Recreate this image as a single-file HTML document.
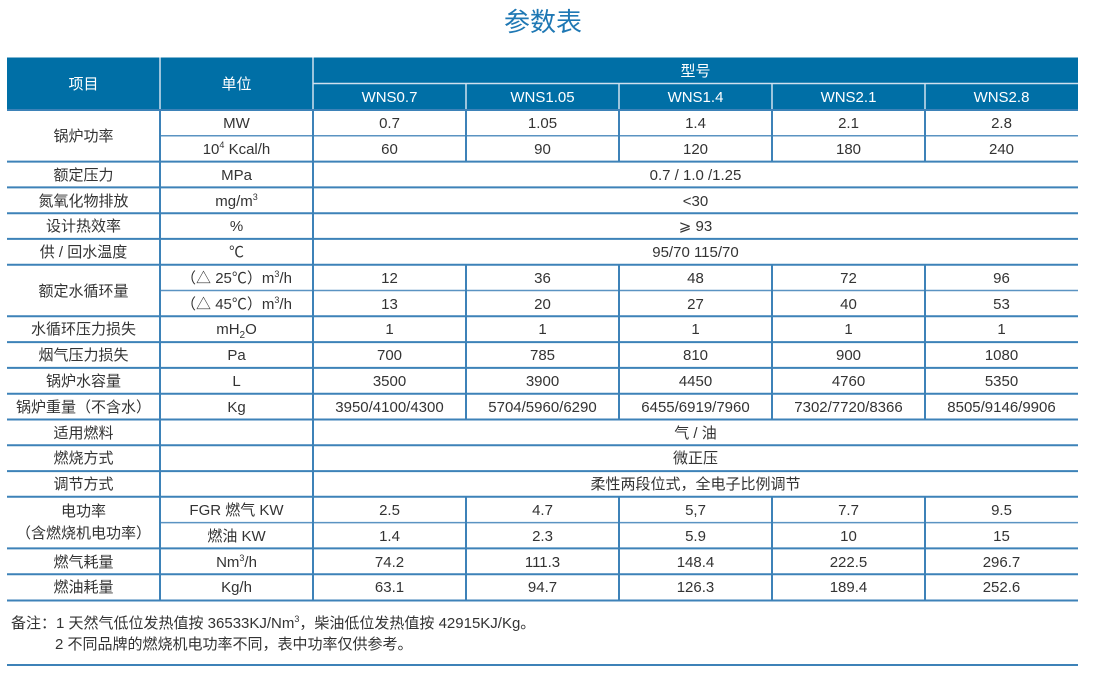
<!DOCTYPE html>
<html><head><meta charset="utf-8"><style>
body{margin:0;background:#fff}
svg{display:block}
text{font-family:"Liberation Sans","Noto Sans CJK SC",sans-serif;font-size:15px;fill:#333;text-anchor:middle}
.h{fill:#fff}
.l{text-anchor:start}
</style></head><body>
<svg width="1100" height="687" viewBox="0 0 1100 687">
<text x="543" y="31" style="font-size:26px;fill:#1f78b4">参数表</text>
<rect x="7" y="57.5" width="1071" height="52.5" fill="#006fa6"/>
<g stroke="#cfe0ee" stroke-width="1.5">
<line x1="160" y1="57.5" x2="160" y2="110"/><line x1="313" y1="57.5" x2="313" y2="110"/>
<line x1="313" y1="83.5" x2="1078" y2="83.5"/>
<line x1="466" y1="83.5" x2="466" y2="110"/><line x1="619" y1="83.5" x2="619" y2="110"/>
<line x1="772" y1="83.5" x2="772" y2="110"/><line x1="925" y1="83.5" x2="925" y2="110"/>
</g>
<text class="h" x="83.5" y="89">项目</text><text class="h" x="236.5" y="89">单位</text>
<text class="h" x="695.5" y="76">型号</text>
<text class="h" x="389.5" y="102">WNS0.7</text><text class="h" x="542.5" y="102">WNS1.05</text>
<text class="h" x="695.5" y="102">WNS1.4</text><text class="h" x="848.5" y="102">WNS2.1</text>
<text class="h" x="1001.5" y="102">WNS2.8</text>
<!-- horizontal lines -->
<g stroke="#3d82b8" stroke-width="2">
<line x1="7" y1="110" x2="1078" y2="110"/>
<line x1="7" y1="161.6" x2="1078" y2="161.6"/>
<line x1="7" y1="187.4" x2="1078" y2="187.4"/>
<line x1="7" y1="213.2" x2="1078" y2="213.2"/>
<line x1="7" y1="238.9" x2="1078" y2="238.9"/>
<line x1="7" y1="264.7" x2="1078" y2="264.7"/>
<line x1="7" y1="316.3" x2="1078" y2="316.3"/>
<line x1="7" y1="342.1" x2="1078" y2="342.1"/>
<line x1="7" y1="367.9" x2="1078" y2="367.9"/>
<line x1="7" y1="393.7" x2="1078" y2="393.7"/>
<line x1="7" y1="419.5" x2="1078" y2="419.5"/>
<line x1="7" y1="445.3" x2="1078" y2="445.3"/>
<line x1="7" y1="471.1" x2="1078" y2="471.1"/>
<line x1="7" y1="496.8" x2="1078" y2="496.8"/>
<line x1="7" y1="548.4" x2="1078" y2="548.4"/>
<line x1="7" y1="574.2" x2="1078" y2="574.2"/>
<line x1="7" y1="600.5" x2="1078" y2="600.5"/>
<line x1="7" y1="665" x2="1078" y2="665"/>
</g>
<g stroke="#5a93c2" stroke-width="1.5">
<line x1="160" y1="135.8" x2="1078" y2="135.8"/>
<line x1="160" y1="290.5" x2="1078" y2="290.5"/>
<line x1="160" y1="522.6" x2="1078" y2="522.6"/>
</g>
<!-- vertical -->
<g stroke="#3d82b8" stroke-width="2">
<line x1="160" y1="110" x2="160" y2="600.5"/><line x1="313" y1="110" x2="313" y2="600.5"/>
<g id="v1"><line x1="466" y1="110" x2="466" y2="161.6"/><line x1="619" y1="110" x2="619" y2="161.6"/><line x1="772" y1="110" x2="772" y2="161.6"/><line x1="925" y1="110" x2="925" y2="161.6"/></g>
<line x1="466" y1="264.7" x2="466" y2="419.5"/><line x1="619" y1="264.7" x2="619" y2="419.5"/><line x1="772" y1="264.7" x2="772" y2="419.5"/><line x1="925" y1="264.7" x2="925" y2="419.5"/>
<line x1="466" y1="496.8" x2="466" y2="600.5"/><line x1="619" y1="496.8" x2="619" y2="600.5"/><line x1="772" y1="496.8" x2="772" y2="600.5"/><line x1="925" y1="496.8" x2="925" y2="600.5"/>
</g>
<!-- col 1 -->
<text x="83.5" y="141">锅炉功率</text>
<text x="83.5" y="180">额定压力</text>
<text x="83.5" y="206">氮氧化物排放</text>
<text x="83.5" y="231">设计热效率</text>
<text x="83.5" y="257">供 / 回水温度</text>
<text x="83.5" y="296">额定水循环量</text>
<text x="83.5" y="334">水循环压力损失</text>
<text x="83.5" y="360">烟气压力损失</text>
<text x="83.5" y="386">锅炉水容量</text>
<text x="83.5" y="412">锅炉重量（不含水）</text>
<text x="83.5" y="438">适用燃料</text>
<text x="83.5" y="463">燃烧方式</text>
<text x="83.5" y="489">调节方式</text>
<text x="83.5" y="516">电功率</text>
<text x="83.5" y="538">（含燃烧机电功率）</text>
<text x="83.5" y="567">燃气耗量</text>
<text x="83.5" y="592">燃油耗量</text>
<!-- col 2 -->
<text x="236.5" y="128">MW</text>
<text x="236.5" y="154">10<tspan dy="-6" style="font-size:9px">4</tspan><tspan dy="6"> Kcal/h</tspan></text>
<text x="236.5" y="180">MPa</text>
<text x="236.5" y="206">mg/m<tspan dy="-6" style="font-size:9px">3</tspan></text>
<text x="236.5" y="231">%</text>
<text x="236.5" y="257">℃</text>
<text x="236.5" y="283">（△ 25℃）m<tspan dy="-6" style="font-size:9px">3</tspan><tspan dy="6">/h</tspan></text>
<text x="236.5" y="309">（△ 45℃）m<tspan dy="-6" style="font-size:9px">3</tspan><tspan dy="6">/h</tspan></text>
<text x="236.5" y="334">mH<tspan dy="4" style="font-size:10px">2</tspan><tspan dy="-4">O</tspan></text>
<text x="236.5" y="360">Pa</text>
<text x="236.5" y="386">L</text>
<text x="236.5" y="412">Kg</text>
<text x="236.5" y="515">FGR 燃气 KW</text>
<text x="236.5" y="541">燃油 KW</text>
<text x="236.5" y="567">Nm<tspan dy="-6" style="font-size:9px">3</tspan><tspan dy="6">/h</tspan></text>
<text x="236.5" y="592">Kg/h</text>
<!-- spans -->
<text x="695.5" y="180">0.7 / 1.0 /1.25</text>
<text x="695.5" y="206">&lt;30</text>
<text x="695.5" y="231">⩾ 93</text>
<text x="695.5" y="257">95/70   115/70</text>
<text x="695.5" y="438">气 / 油</text>
<text x="695.5" y="463">微正压</text>
<text x="695.5" y="489">柔性两段位式，全电子比例调节</text>
<!-- data -->
<g>
<text x="389.5" y="128">0.7</text><text x="542.5" y="128">1.05</text><text x="695.5" y="128">1.4</text><text x="848.5" y="128">2.1</text><text x="1001.5" y="128">2.8</text>
<text x="389.5" y="154">60</text><text x="542.5" y="154">90</text><text x="695.5" y="154">120</text><text x="848.5" y="154">180</text><text x="1001.5" y="154">240</text>
<text x="389.5" y="283">12</text><text x="542.5" y="283">36</text><text x="695.5" y="283">48</text><text x="848.5" y="283">72</text><text x="1001.5" y="283">96</text>
<text x="389.5" y="309">13</text><text x="542.5" y="309">20</text><text x="695.5" y="309">27</text><text x="848.5" y="309">40</text><text x="1001.5" y="309">53</text>
<text x="389.5" y="334">1</text><text x="542.5" y="334">1</text><text x="695.5" y="334">1</text><text x="848.5" y="334">1</text><text x="1001.5" y="334">1</text>
<text x="389.5" y="360">700</text><text x="542.5" y="360">785</text><text x="695.5" y="360">810</text><text x="848.5" y="360">900</text><text x="1001.5" y="360">1080</text>
<text x="389.5" y="386">3500</text><text x="542.5" y="386">3900</text><text x="695.5" y="386">4450</text><text x="848.5" y="386">4760</text><text x="1001.5" y="386">5350</text>
<text x="389.5" y="412">3950/4100/4300</text><text x="542.5" y="412">5704/5960/6290</text><text x="695.5" y="412">6455/6919/7960</text><text x="848.5" y="412">7302/7720/8366</text><text x="1001.5" y="412">8505/9146/9906</text>
<text x="389.5" y="515">2.5</text><text x="542.5" y="515">4.7</text><text x="695.5" y="515">5,7</text><text x="848.5" y="515">7.7</text><text x="1001.5" y="515">9.5</text>
<text x="389.5" y="541">1.4</text><text x="542.5" y="541">2.3</text><text x="695.5" y="541">5.9</text><text x="848.5" y="541">10</text><text x="1001.5" y="541">15</text>
<text x="389.5" y="567">74.2</text><text x="542.5" y="567">111.3</text><text x="695.5" y="567">148.4</text><text x="848.5" y="567">222.5</text><text x="1001.5" y="567">296.7</text>
<text x="389.5" y="592">63.1</text><text x="542.5" y="592">94.7</text><text x="695.5" y="592">126.3</text><text x="848.5" y="592">189.4</text><text x="1001.5" y="592">252.6</text>
</g>
<text class="l" x="11" y="628">备注：1  天然气低位发热值按 36533KJ/Nm<tspan dy="-6" style="font-size:9px">3</tspan><tspan dy="6">，柴油低位发热值按 42915KJ/Kg。</tspan></text>
<text class="l" x="55" y="649">2  不同品牌的燃烧机电功率不同，表中功率仅供参考。</text>
</svg>
</body></html>
